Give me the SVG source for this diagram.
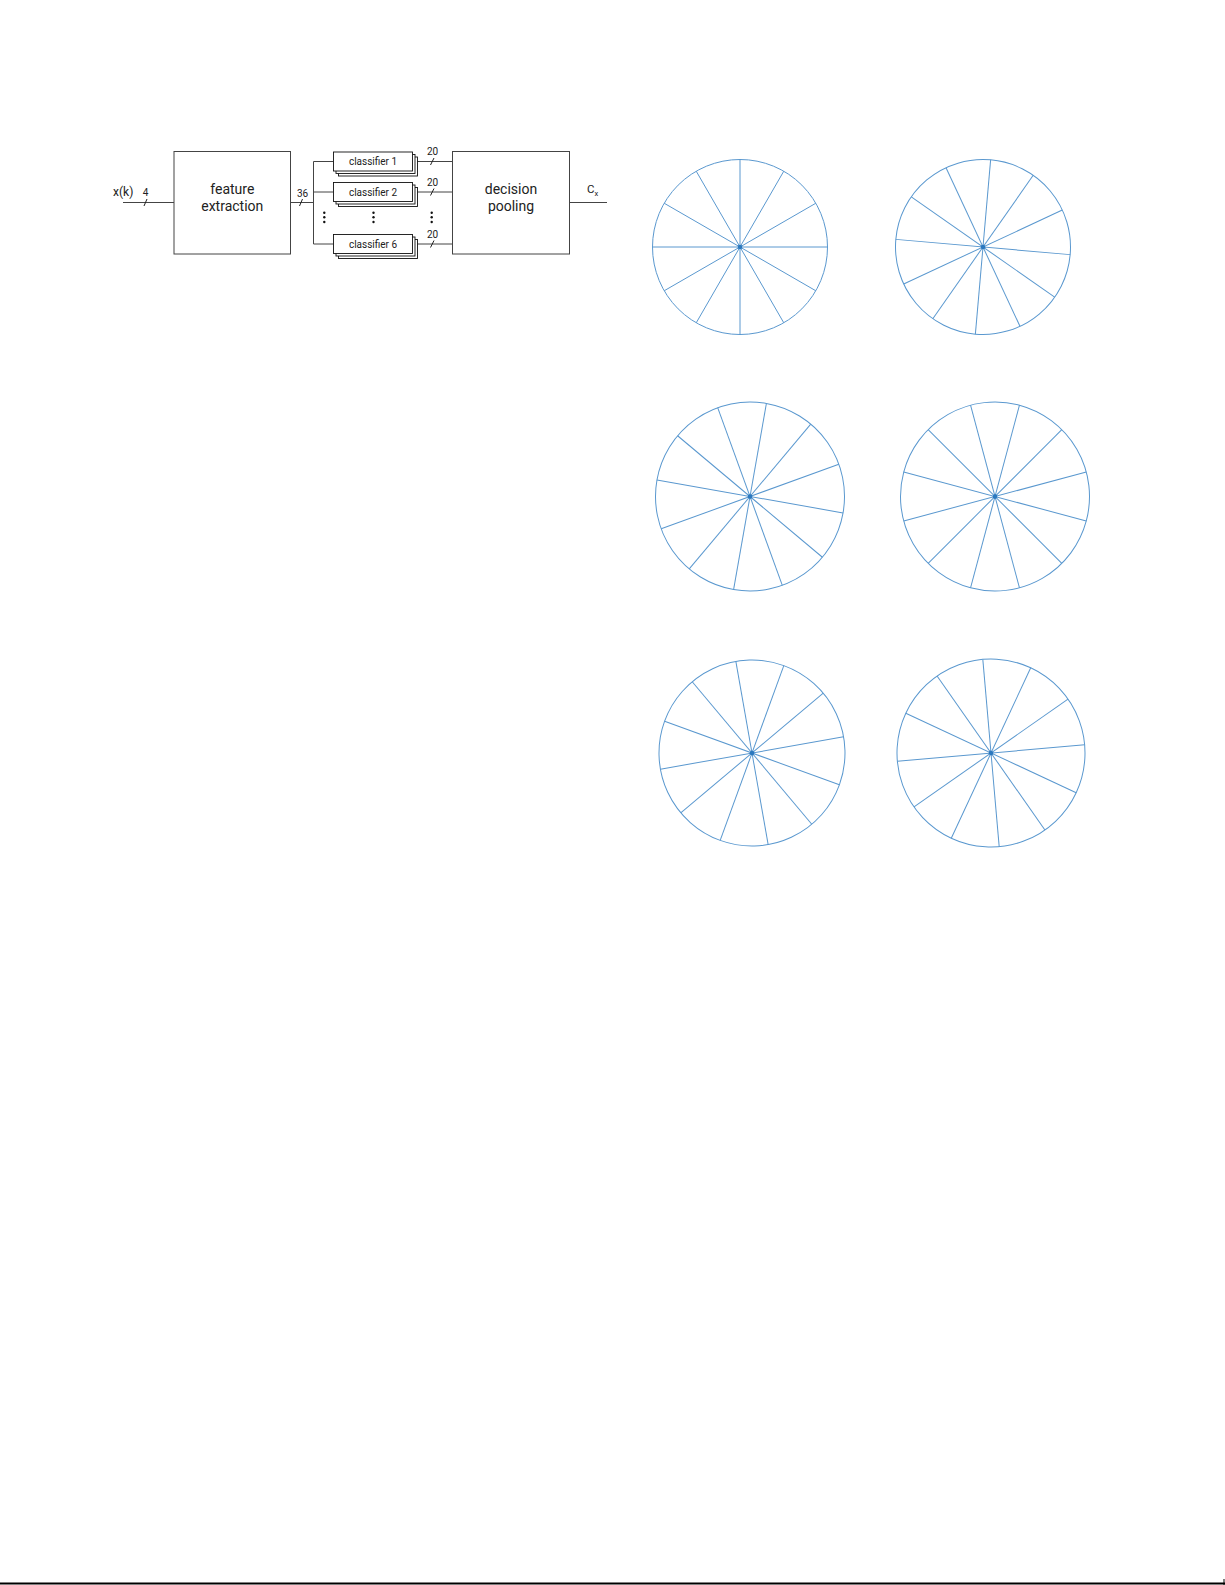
<svg xmlns="http://www.w3.org/2000/svg" width="1225" height="1585" viewBox="0 0 1225 1585">
<style>
  text { font-family: Roboto, "Liberation Sans", sans-serif; fill: #222; }
  .box { fill: #fff; stroke: #444; stroke-width: 1; }
  .cls { fill: #fff; stroke: #111; stroke-width: 0.9; }
  .wire { fill: none; stroke: #444; stroke-width: 1; }
  .slash { stroke: #222; stroke-width: 1; }
  .dot { fill: #111; }
  .big { font-size: 14px; }
  .small { font-size: 10px; }
  .wheel circle.rim { fill: none; stroke: #5a98cf; stroke-width: 1; }
  .wheel line { stroke: #5a98cf; stroke-width: 1; }
  .hub { fill: #2a78bf; }
</style>
<rect x="0" y="0" width="1225" height="1585" fill="#fff"/>

<!-- connectors -->
<g id="connectors">
  <line class="wire" x1="123" y1="202.5" x2="174" y2="202.5"/>
  <line class="slash" x1="144" y1="206" x2="147" y2="199"/>
  <line class="wire" x1="290.5" y1="202.5" x2="313.5" y2="202.5"/>
  <line class="slash" x1="299.5" y1="206" x2="302.5" y2="199"/>
  <line class="wire" x1="313.5" y1="161.5" x2="313.5" y2="244"/>
  <line class="wire" x1="313.5" y1="161.5" x2="333.5" y2="161.5"/>
  <line class="wire" x1="313.5" y1="192" x2="333.5" y2="192"/>
  <line class="wire" x1="313.5" y1="244" x2="333.5" y2="244"/>
  <line class="wire" x1="413" y1="161.5" x2="452.5" y2="161.5"/>
  <line class="wire" x1="413" y1="192" x2="452.5" y2="192"/>
  <line class="wire" x1="413" y1="244" x2="452.5" y2="244"/>
  <line class="slash" x1="430.5" y1="165" x2="434" y2="158"/>
  <line class="slash" x1="430.5" y1="195.5" x2="434" y2="188.5"/>
  <line class="slash" x1="430.5" y1="247.5" x2="434" y2="240.5"/>
  <line class="wire" x1="569.5" y1="202.5" x2="607" y2="202.5"/>
  <text class="small" x="145.5" y="196" text-anchor="middle">4</text>
  <text class="small" x="302.5" y="197" text-anchor="middle">36</text>
  <text class="small" x="432.5" y="155" text-anchor="middle">20</text>
  <text class="small" x="432.5" y="185.5" text-anchor="middle">20</text>
  <text class="small" x="432.5" y="237.5" text-anchor="middle">20</text>
</g>

<g id="input-label">
  <text x="113" y="196" font-size="12">x(k)</text>
</g>

<g id="feature-extraction">
  <rect class="box" x="174" y="151.5" width="116.5" height="102.5"/>
  <text class="big" x="232.3" y="194" text-anchor="middle">feature</text>
  <text class="big" x="232.3" y="211" text-anchor="middle">extraction</text>
</g>

<g id="classifier-1">
  <rect class="cls" x="338.5" y="157" width="79" height="19"/>
  <rect class="cls" x="336" y="154.5" width="79" height="19"/>
  <rect class="cls" x="333.5" y="152" width="79" height="19"/>
  <text class="small" x="373" y="165" text-anchor="middle">classifier 1</text>
</g>
<g id="classifier-2">
  <rect class="cls" x="338.5" y="187.5" width="79" height="19"/>
  <rect class="cls" x="336" y="185" width="79" height="19"/>
  <rect class="cls" x="333.5" y="182.5" width="79" height="19"/>
  <text class="small" x="373" y="195.5" text-anchor="middle">classifier 2</text>
</g>
<g id="classifier-6">
  <rect class="cls" x="338.5" y="239.5" width="79" height="19"/>
  <rect class="cls" x="336" y="237" width="79" height="19"/>
  <rect class="cls" x="333.5" y="234.5" width="79" height="19"/>
  <text class="small" x="373" y="247.5" text-anchor="middle">classifier 6</text>
</g>

<g id="ellipsis">
  <circle class="dot" cx="324.3" cy="212.7" r="1.2"/>
  <circle class="dot" cx="324.3" cy="217.3" r="1.2"/>
  <circle class="dot" cx="324.3" cy="222" r="1.2"/>
  <circle class="dot" cx="373.5" cy="212.7" r="1.2"/>
  <circle class="dot" cx="373.5" cy="217.3" r="1.2"/>
  <circle class="dot" cx="373.5" cy="222" r="1.2"/>
  <circle class="dot" cx="431.7" cy="212.7" r="1.2"/>
  <circle class="dot" cx="431.7" cy="217.3" r="1.2"/>
  <circle class="dot" cx="431.7" cy="222" r="1.2"/>
</g>

<g id="decision-pooling">
  <rect class="box" x="452.5" y="151.5" width="117" height="102.5"/>
  <text class="big" x="511" y="193.5" text-anchor="middle">decision</text>
  <text class="big" x="511" y="211" text-anchor="middle">pooling</text>
</g>

<g id="output-label">
  <text x="587" y="193" font-size="11.5">C<tspan font-size="7.5" dy="2.5">x</tspan></text>
</g>

<!-- wheels -->
<g id="wheel-1" class="wheel" transform="translate(740,247)">
  <circle class="rim" cx="0" cy="0" r="87.5"/>
  <line x1="87.5" y1="0" x2="-87.5" y2="0"/>
  <line x1="75.78" y1="43.75" x2="-75.78" y2="-43.75"/>
  <line x1="43.75" y1="75.78" x2="-43.75" y2="-75.78"/>
  <line x1="0" y1="87.5" x2="0" y2="-87.5"/>
  <line x1="-43.75" y1="75.78" x2="43.75" y2="-75.78"/>
  <line x1="-75.78" y1="43.75" x2="75.78" y2="-43.75"/>
  <circle class="hub" cx="0" cy="0" r="2.3"/>
</g>

<g id="wheel-2" class="wheel" transform="translate(983,247) rotate(5)">
  <circle class="rim" cx="0" cy="0" r="87.5"/>
  <line x1="87.5" y1="0" x2="-87.5" y2="0"/>
  <line x1="75.78" y1="43.75" x2="-75.78" y2="-43.75"/>
  <line x1="43.75" y1="75.78" x2="-43.75" y2="-75.78"/>
  <line x1="0" y1="87.5" x2="0" y2="-87.5"/>
  <line x1="-43.75" y1="75.78" x2="43.75" y2="-75.78"/>
  <line x1="-75.78" y1="43.75" x2="75.78" y2="-43.75"/>
  <circle class="hub" cx="0" cy="0" r="2.3"/>
</g>

<g id="wheel-3" class="wheel" transform="translate(750,496.5) rotate(10)">
  <circle class="rim" cx="0" cy="0" r="94.5"/>
  <line x1="94.5" y1="0" x2="-94.5" y2="0"/>
  <line x1="81.84" y1="47.25" x2="-81.84" y2="-47.25"/>
  <line x1="47.25" y1="81.84" x2="-47.25" y2="-81.84"/>
  <line x1="0" y1="94.5" x2="0" y2="-94.5"/>
  <line x1="-47.25" y1="81.84" x2="47.25" y2="-81.84"/>
  <line x1="-81.84" y1="47.25" x2="81.84" y2="-47.25"/>
  <circle class="hub" cx="0" cy="0" r="2.3"/>
</g>

<g id="wheel-4" class="wheel" transform="translate(995,496.5) rotate(15)">
  <circle class="rim" cx="0" cy="0" r="94.5"/>
  <line x1="94.5" y1="0" x2="-94.5" y2="0"/>
  <line x1="81.84" y1="47.25" x2="-81.84" y2="-47.25"/>
  <line x1="47.25" y1="81.84" x2="-47.25" y2="-81.84"/>
  <line x1="0" y1="94.5" x2="0" y2="-94.5"/>
  <line x1="-47.25" y1="81.84" x2="47.25" y2="-81.84"/>
  <line x1="-81.84" y1="47.25" x2="81.84" y2="-47.25"/>
  <circle class="hub" cx="0" cy="0" r="2.3"/>
</g>

<g id="wheel-5" class="wheel" transform="translate(752,753) rotate(20)">
  <circle class="rim" cx="0" cy="0" r="93"/>
  <line x1="93" y1="0" x2="-93" y2="0"/>
  <line x1="80.54" y1="46.5" x2="-80.54" y2="-46.5"/>
  <line x1="46.5" y1="80.54" x2="-46.5" y2="-80.54"/>
  <line x1="0" y1="93" x2="0" y2="-93"/>
  <line x1="-46.5" y1="80.54" x2="46.5" y2="-80.54"/>
  <line x1="-80.54" y1="46.5" x2="80.54" y2="-46.5"/>
  <circle class="hub" cx="0" cy="0" r="2.3"/>
</g>

<g id="wheel-6" class="wheel" transform="translate(991,753) rotate(25)">
  <circle class="rim" cx="0" cy="0" r="94"/>
  <line x1="94" y1="0" x2="-94" y2="0"/>
  <line x1="81.41" y1="47" x2="-81.41" y2="-47"/>
  <line x1="47" y1="81.41" x2="-47" y2="-81.41"/>
  <line x1="0" y1="94" x2="0" y2="-94"/>
  <line x1="-47" y1="81.41" x2="47" y2="-81.41"/>
  <line x1="-81.41" y1="47" x2="81.41" y2="-47"/>
  <circle class="hub" cx="0" cy="0" r="2.3"/>
</g>

<g id="page-edge">
  <line x1="0" y1="1583.5" x2="1225" y2="1583.5" stroke="#000" stroke-width="2"/>
  <line x1="1224" y1="1579" x2="1224" y2="1585" stroke="#000" stroke-width="1"/>
</g>
</svg>
